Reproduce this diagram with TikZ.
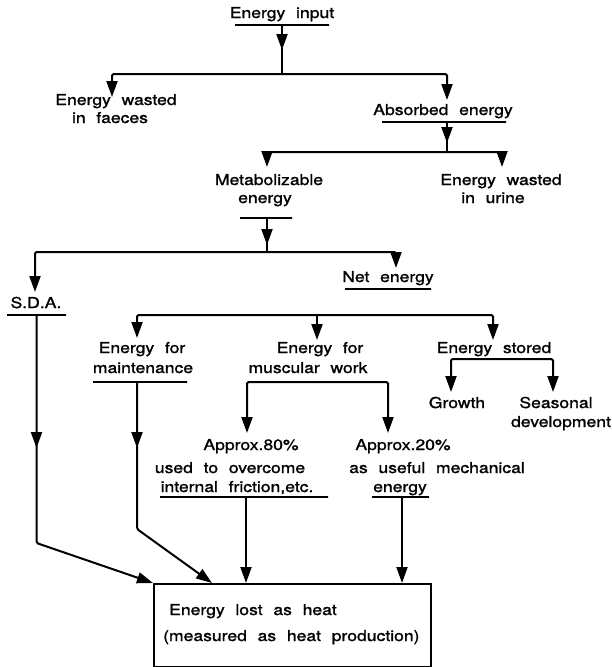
\documentclass[tikz,border=0pt]{standalone}
\usepackage{fontspec}
\setmainfont{TeX Gyre Heros}[FakeStretch=1.17,WordSpace=2.2,FakeBold=1.3]
\usetikzlibrary{arrows.meta,decorations.markings}
\begin{document}
\begin{tikzpicture}[x=1pt,y=-1pt,
  lbl/.style={inner sep=0pt, anchor=base, font=\fontsize{15pt}{18pt}\selectfont},
  ul/.style={draw, line width=2pt, inner sep=0pt, outer sep=0pt, minimum height=0pt, minimum width=#1},
  ln/.style={line width=2pt, rounded corners=1.5pt},
  conn/.style={ln, -{Triangle[length=16pt,width=11pt]}},
  midarr/.style={postaction={decorate}, decoration={markings, mark=at position #1 with {\arrow{Triangle[length=16pt,width=11pt]}}}}]
\useasboundingbox (0,0) rectangle (611,667);

% level 1
\node[lbl] (tIn) at (282,18) {Energy input};
\node[ul=94pt] (uIn) at (282,25) {};
\coordinate (j1) at (282,74);
\draw[ln, midarr=25pt] (uIn.center) -- (j1);
\coordinate (fa) at (112,97);
\coordinate (ab) at (447,100);
\draw[conn] (j1) -| (fa);
\draw[conn] (j1) -| (ab);
\node[lbl] (tFa1) at (116,105) {Energy wasted};
\node[lbl] (tFa2) at (110,123) {in faeces};

% absorbed
\node[lbl] (tAb) at (443,115) {Absorbed energy};
\node[ul=124pt] (uAb) at (444,122) {};
\coordinate (j2) at (447,152);
\draw[ln, midarr=21pt] (j2 |- uAb) -- (j2);
\coordinate (me) at (267,167);
\coordinate (ur) at (502,167);
\draw[conn] (j2) -| (me);
\draw[conn] (j2) -| (ur);
\node[lbl] (tMe1) at (269,185) {Metabolizable};
\node[lbl] (tMe2) at (265,203) {energy};
\node[ul=52pt] (uMe) at (266,218) {};
\node[lbl] (tUr1) at (501,185) {Energy wasted};
\node[lbl] (tUr2) at (493,203) {in urine};

% metabolizable
\coordinate (j3) at (267,252);
\draw[ln, midarr=27pt] (j3 |- uMe) -- (j3);
\coordinate (sd) at (35,292);
\coordinate (ne) at (396,268);
\draw[conn] (j3) -| (sd);
\draw[conn] (j3) -| (ne);
\node[lbl] (tSd) at (36,308) {S.D.A.};
\node[ul=59pt] (uSd) at (36.5,315) {};
\node[lbl] (tNe) at (388,282) {Net energy};
\node[ul=86pt] (uNe) at (388,289) {};

% net energy branches
\coordinate (j4) at (317,315);
\coordinate (em) at (137,338);
\coordinate (mu) at (317,340);
\coordinate (st) at (493,340);
\draw[conn] (j4) -| (em);
\draw[conn] (j4) -- (mu);
\draw[conn] (j4) -| (st);
\node[lbl] (tMa1) at (142,353) {Energy for};
\node[lbl] (tMa2) at (143,373) {maintenance};
\node[ul=94pt] (uMa) at (140,382) {};
\node[lbl] (tMw1) at (320,353) {Energy for};
\node[lbl] (tMw2) at (308,373) {muscular work};
\node[lbl] (tSt) at (494,353) {Energy stored};

% stored
\coordinate (j6) at (494,359);
\coordinate (gr) at (451,392);
\coordinate (se) at (553,392);
\draw[conn] (j6) -| (gr);
\draw[conn] (j6) -| (se);
\node[lbl] (tGr) at (457,408) {Growth};
\node[lbl] (tSe1) at (556,408) {Seasonal};
\node[lbl] (tSe2) at (561,427) {development};

% muscular work
\coordinate (j5) at (317,382);
\coordinate (p8) at (247,433);
\coordinate (p2) at (388,433);
\draw[conn] (j5) -| (p8);
\draw[conn] (j5) -| (p2);
\node[lbl] (tA8) at (251,450) {Approx.80\%};
\node[lbl] (tA8b) at (230,473) {used to overcome};
\node[lbl] (tA8c) at (237,492) {internal friction,etc.};
\node[ul=168pt] (uFr) at (244,497) {};
\node[lbl] (tA2) at (403,450) {Approx.20\%};
\node[lbl] (tA2b) at (437,473) {as useful mechanical};
\node[lbl] (tA2c) at (400,492) {energy};
\node[ul=57pt] (uEn) at (400.5,497) {};

% heat box
\node[draw, line width=1.5pt, minimum width=277pt, minimum height=83pt, inner sep=0pt, anchor=north west] (box) at (153,583) {};
\node[lbl, anchor=base west] (tH1) at (169,615) {Energy lost as heat};
\node[lbl, anchor=base west] (tH2) at (163,641) {(measured as heat production)};

\coordinate (sdb) at (37,543);
\coordinate (mab) at (137,529);
\coordinate (bx2) at (212,583);
\coordinate (bx3) at (246,583);
\coordinate (bx4) at (402,583);
\draw[conn, midarr=133pt] (uSd.center) -- (uSd.center |- sdb) -- (box.north west);
\draw[conn, midarr=66pt] (uMa.center -| mab) -- (mab) -- (bx2);
\draw[conn] (bx3 |- uFr) -- (bx3);
\draw[conn] (bx4 |- uEn) -- (bx4);
\end{tikzpicture}
\end{document}
